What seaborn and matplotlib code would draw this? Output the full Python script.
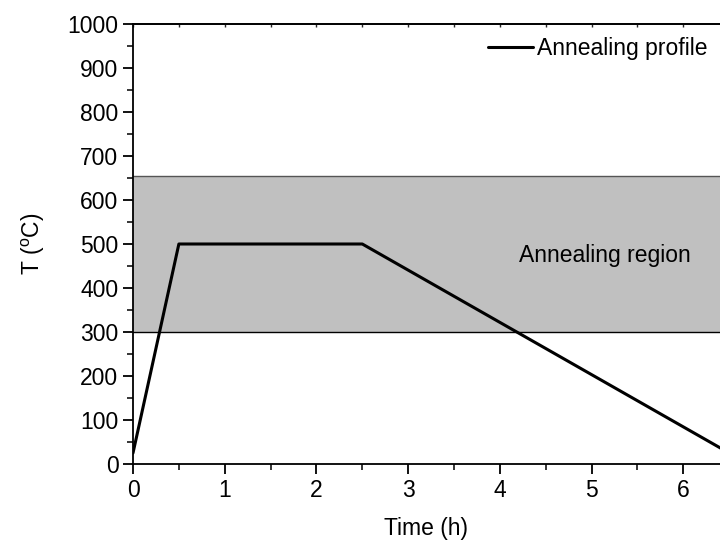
import matplotlib
matplotlib.use('Agg')
import matplotlib.pyplot as plt
import seaborn as sns
import pandas as pd
from matplotlib.ticker import MultipleLocator

# annealing temperature profile
time_h = [0, 0.5, 2.5, 6.5]
temp_c = [25, 500, 500, 25]
region_low = 300
region_high = 655

sns.set_theme(style='ticks')
plt.rcParams['font.family'] = ['Liberation Sans', 'DejaVu Sans']
plt.rcParams['mathtext.fontset'] = 'custom'
plt.rcParams['mathtext.rm'] = 'Liberation Sans'
plt.rcParams['text.color'] = 'black'
plt.rcParams['axes.labelcolor'] = 'black'

df = pd.DataFrame({'Time (h)': time_h, 'T': temp_c})

fig = plt.figure(figsize=(7.2, 5.42), dpi=100)
ax = fig.add_axes([133 / 720, 1 - 464 / 542, 1 - 133 / 720, 440 / 542])

# grey annealing window
ax.axhspan(region_low, region_high, facecolor='#c0c0c0', edgecolor='none', zorder=0)
ax.axhline(region_high, color='#555555', lw=1.0, zorder=1)
ax.axhline(region_low, color='black', lw=1.0, zorder=1)

sns.lineplot(data=df, x='Time (h)', y='T', color='black', lw=2.2,
             label='Annealing profile', ax=ax, zorder=3)

ax.text(5.15, 473, 'Annealing region', fontsize=16.5, ha='center', va='center')

ax.set_xlim(0, 6.4)
ax.set_ylim(0, 1000)
ax.xaxis.set_major_locator(MultipleLocator(1))
ax.xaxis.set_minor_locator(MultipleLocator(0.5))
ax.yaxis.set_major_locator(MultipleLocator(100))
ax.yaxis.set_minor_locator(MultipleLocator(50))
ax.tick_params(which='major', direction='out', length=7, width=1.3, labelsize=16.5, colors='black')
ax.tick_params(which='minor', direction='out', length=4, width=1.3)
ax.spines['right'].set_visible(False)
for s in ['left', 'bottom', 'top']:
    ax.spines[s].set_linewidth(1.3)
    ax.spines[s].set_color('black')

# tiny inward ticks on the top frame
top = ax.secondary_xaxis('top')
top.xaxis.set_major_locator(MultipleLocator(1))
top.xaxis.set_minor_locator(MultipleLocator(0.5))
top.tick_params(which='both', direction='in', length=2, width=1.0, labeltop=False)
top.spines['top'].set_linewidth(1.3)

ax.set_xlabel('Time (h)', fontsize=16.5, labelpad=11)
ax.set_ylabel('T ($\\mathregular{^{o}}$C)', fontsize=16.5, labelpad=15)

leg = ax.legend(loc='upper right', frameon=False, fontsize=16.5, handlelength=2.0,
                handletextpad=0.15, borderaxespad=0.15, bbox_to_anchor=(1.0, 1.0))

fig.savefig('out.png', dpi=100)
